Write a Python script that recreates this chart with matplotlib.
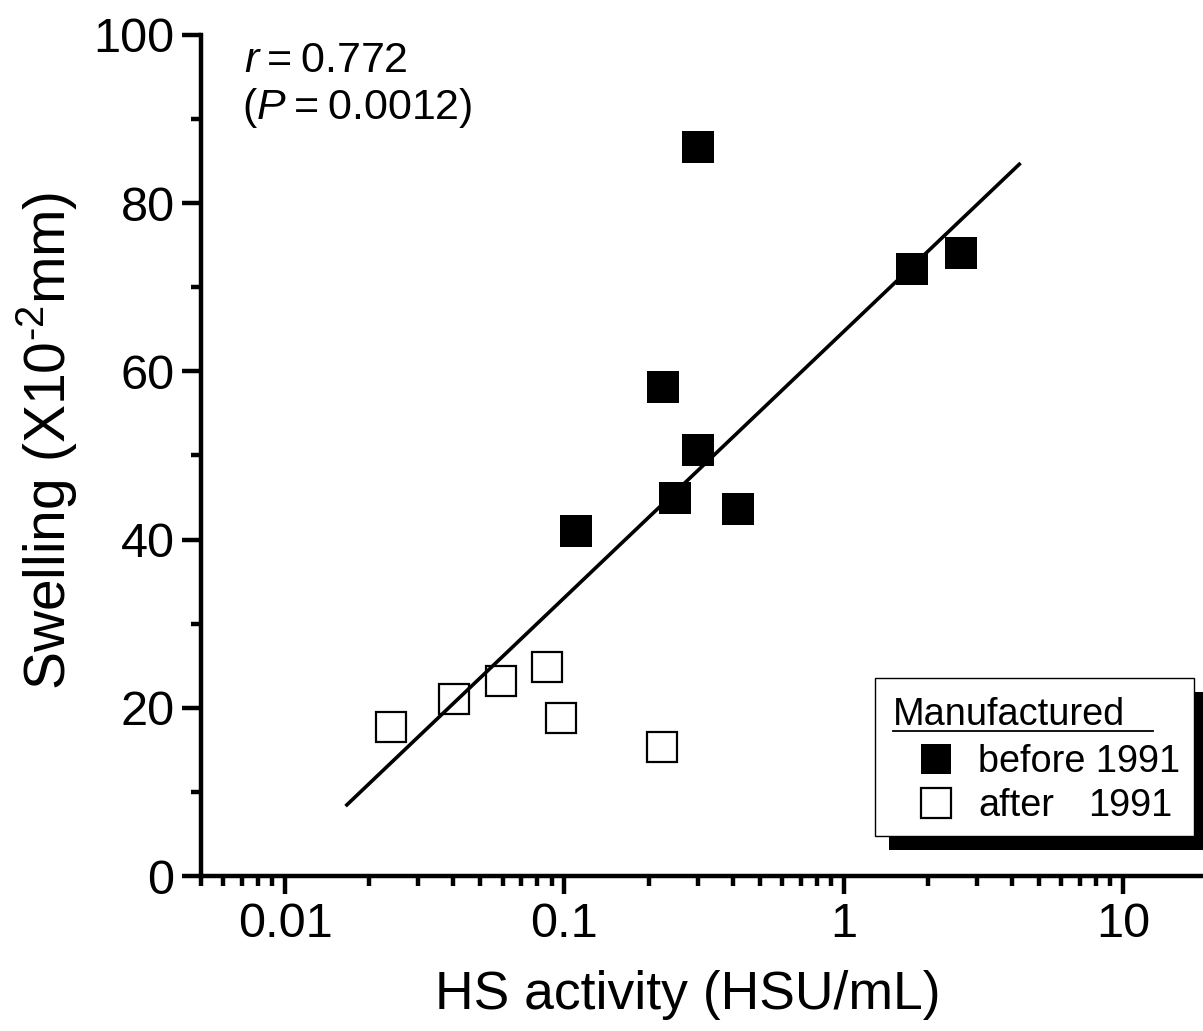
import matplotlib
matplotlib.use("Agg")
import matplotlib.pyplot as plt
import numpy as np
from matplotlib.patches import Rectangle
from matplotlib.lines import Line2D
from matplotlib.ticker import FixedLocator, NullFormatter

plt.rcParams['font.family'] = ['Liberation Sans', 'DejaVu Sans']
plt.rcParams['mathtext.fontset'] = 'custom'
plt.rcParams['mathtext.rm'] = 'Liberation Sans'
plt.rcParams['mathtext.it'] = 'Liberation Sans:italic'

# HS activity (HSU/mL) and swelling (x10^-2 mm)
before_x = [0.301, 1.755, 2.62, 0.2245, 0.3015, 0.248, 0.419, 0.1097]
before_y = [86.7, 72.2, 74.1, 58.2, 50.6, 44.9, 43.6, 41.0]
after_x = [0.024, 0.0401, 0.0591, 0.0863, 0.0971, 0.2226]
after_y = [17.7, 21.1, 23.2, 24.9, 18.8, 15.3]

# regression: swelling = intercept + slope * log10(activity)
fit_slope = 31.65
fit_intercept = 64.76
fit_range = [0.01646, 4.29]

x_major = [0.01, 0.1, 1, 10]
x_labels = ["0.01", "0.1", "1", "10"]
y_major = [0, 20, 40, 60, 80, 100]
y_minor = [10, 30, 50, 70, 90]

W, H = 1203, 1031
fig = plt.figure(figsize=(W / 100, H / 100), dpi=100)
ax = fig.add_axes([201 / W, (H - 876) / H, (W - 201) / W, (876 - 35) / H])

lw_axis = 3.2
ax.spines['top'].set_visible(False)
ax.spines['right'].set_visible(False)
for s in ('left', 'bottom'):
    ax.spines[s].set_linewidth(lw_axis)

ax.set_xscale('log')
ax.set_xlim(0.005, 19.29)
ax.set_ylim(0, 100)

ax.xaxis.set_major_locator(FixedLocator(x_major))
ax.set_xticklabels(x_labels)
minors = [m * d for d in [0.001, 0.01, 0.1, 1, 10] for m in range(2, 10)]
ax.xaxis.set_minor_locator(FixedLocator(minors))
ax.xaxis.set_minor_formatter(NullFormatter())
ax.set_yticks(y_major)
ax.set_yticks(y_minor, minor=True)

ax.tick_params(which='major', direction='out', length=13, width=lw_axis,
               labelsize=35, pad=6)
ax.tick_params(which='minor', direction='out', length=7, width=lw_axis)
ax.tick_params(axis='y', which='major', length=14, pad=5)

# regression line
fx = np.array(fit_range)
ax.plot(fx, fit_intercept + fit_slope * np.log10(fx), color='black',
        lw=2.6, solid_capstyle='butt', zorder=2)

ax.plot(before_x, before_y, linestyle='none', marker='s', ms=22.7,
        mfc='black', mec='black', mew=0, zorder=3)
ax.plot(after_x, after_y, linestyle='none', marker='s', ms=21.2,
        mfc='none', mec='black', mew=1.6, zorder=3)

ax.set_xlabel("HS activity (HSU/mL)", fontsize=38.5)
ax.xaxis.set_label_coords(0.486, -0.112)
ax.set_ylabel(r"Swelling (X10$^{\text{-2}}$mm)", fontsize=41)
ax.yaxis.set_label_coords(-0.121, 0.518)

def fp(x, y):
    return (x / W, 1 - y / H)

# correlation annotation
fig.text(*fp(244, 72), "$\\mathit{r}$\u2009=\u20090.772", fontsize=31,
         va='baseline')
fig.text(*fp(242, 119), "($\\mathit{P}$\u2009=\u20090.0012)", fontsize=31,
         va='baseline')

# legend box with offset shadow
shadow = Rectangle(fp(889, 850), (1210 - 889) / W, (850 - 692) / H,
                   transform=fig.transFigure, facecolor='black',
                   edgecolor='none', zorder=10)
box = Rectangle(fp(875, 836), (1194 - 875) / W, (836 - 678) / H,
                transform=fig.transFigure, facecolor='white',
                edgecolor='black', lw=1.0, zorder=11)
fig.add_artist(shadow)
fig.add_artist(box)
fig.text(*fp(893, 725), "Manufactured", fontsize=27.3, va='baseline', zorder=12)
fig.add_artist(Line2D([893 / W, 1153 / W], [1 - 731 / H, 1 - 731 / H],
                      transform=fig.transFigure, color='black', lw=1.3,
                      zorder=12))
fig.add_artist(Line2D([935.5 / W], [1 - 758.5 / H], transform=fig.transFigure,
                      marker='s', ms=22, mfc='black', mec='black', mew=0,
                      linestyle='none', zorder=12))
fig.add_artist(Line2D([935.5 / W], [1 - 802.5 / H], transform=fig.transFigure,
                      marker='s', ms=21, mfc='white', mec='black', mew=1.6,
                      linestyle='none', zorder=12))
fig.text(*fp(978, 772), "before 1991", fontsize=27.3, va='baseline', zorder=12)
fig.text(*fp(978, 816), "after", fontsize=27.3, va='baseline', zorder=12)
fig.text(*fp(1172, 816), "1991", fontsize=27.3, va='baseline', ha='right',
         zorder=12)

fig.savefig("out.png", dpi=100)
